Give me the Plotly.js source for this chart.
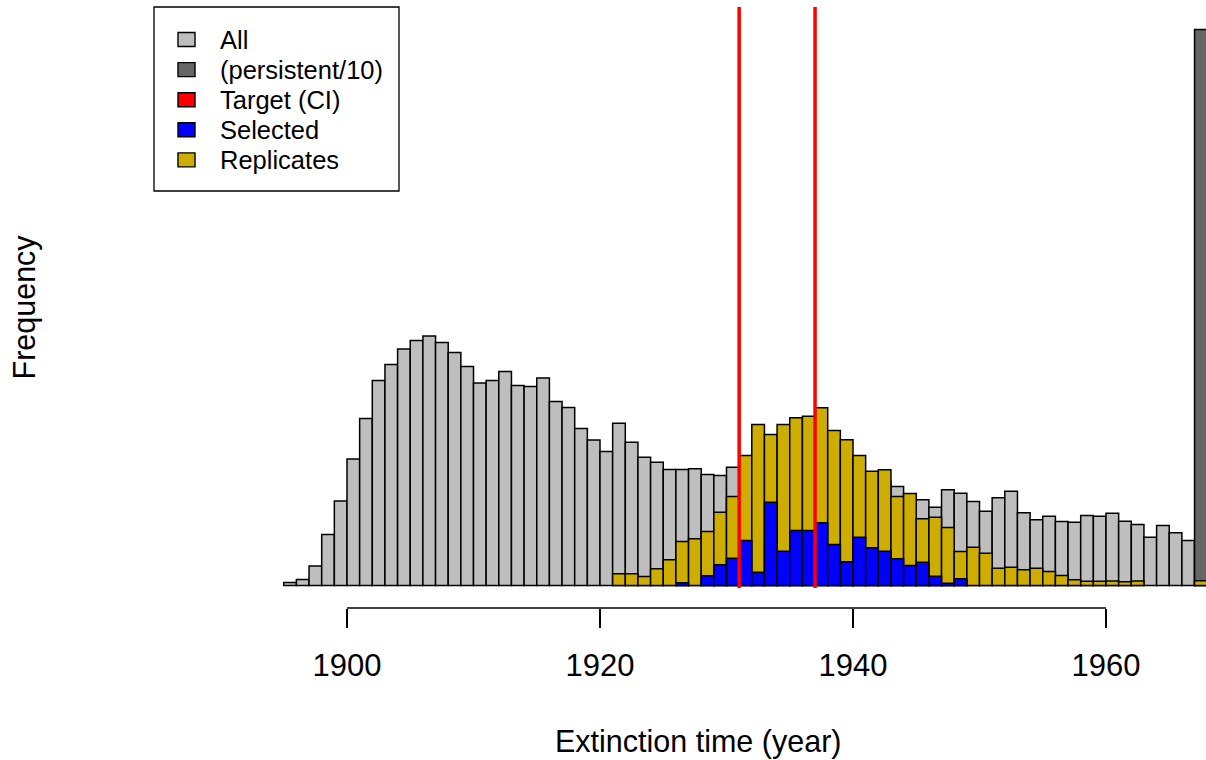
<!DOCTYPE html>
<html>
<head>
<meta charset="utf-8">
<script src="https://cdn.plot.ly/plotly-3.0.1.min.js"></script>
<style>html,body{margin:0;padding:0;background:#fff;}#chart{width:1206px;height:760px;}</style>
</head>
<body>
<div id="chart"></div>
<script>
// Bin start years (1-year bins)
var years = [];
for (var yy = 1895; yy <= 1967; yy++) years.push(yy);

// "All" histogram (arbitrary frequency units)
var allValues = [
  3, 6, 19.5, 51, 84.5,                 // 1895-1899
  126.5, 167, 205, 221, 236.5,          // 1900-1904
  245, 249.5, 243, 233, 219,            // 1905-1909
  202.5, 205, 214, 200, 199,            // 1910-1914
  207.5, 184, 178, 157, 145.5,          // 1915-1919
  134, 162.3, 143.3, 128.3, 123.3,      // 1920-1924
  116, 116, 116.7, 111, 110,            // 1925-1929
  118.3, 118, 115, 118, 115,            // 1930-1934
  112, 115, 110, 112, 108,              // 1935-1939
  110, 105, 104, 99, 90,                // 1940-1944
  85.7, 78.3, 95.7, 92.3, 84,           // 1945-1949
  74.3, 87.7, 94.3, 72.7, 65.7,         // 1950-1954
  69.3, 64, 63.3, 70, 69.3,             // 1955-1959
  72.3, 64.3, 61, 48.3, 60,             // 1960-1964
  52.7, 45, 42                          // 1965-1967
];

// Persistent (/10)
var persistentYears = [1967];
var persistentValues = [556];

// Replicates
var replicateValues = [
  null, null, null, null, null,         // 1895-1899
  null, null, null, null, null,         // 1900-1904
  null, null, null, null, null,         // 1905-1909
  null, null, null, null, null,         // 1910-1914
  null, null, null, null, null,         // 1915-1919
  null, 11.7, 11.7, 9, 16.7,            // 1920-1924
  25.7, 44, 46.7, 54, 73.3,             // 1925-1929
  89, 130, 161, 151, 161,               // 1930-1934
  167.7, 169.3, 177.7, 155, 145.7,      // 1935-1939
  130, 114.3, 115.7, 89, 92,            // 1940-1944
  66.7, 68.3, 58, 34, 38.3,             // 1945-1949
  32.3, 17.3, 18.3, 15.7, 17.3,         // 1950-1954
  14, 10, 5.7, 4.3, 4.3,                // 1955-1959
  4.6, 3.8, 4.6, null, null,            // 1960-1964
  null, null, 4.8                       // 1965-1967
];

// Selected
var selectedValues = [
  null, null, null, null, null,         // 1895-1899
  null, null, null, null, null,         // 1900-1904
  null, null, null, null, null,         // 1905-1909
  null, null, null, null, null,         // 1910-1914
  null, null, null, null, null,         // 1915-1919
  null, null, null, null, null,         // 1920-1924
  null, 2.7, null, 9.7, 20.7,           // 1925-1929
  27.3, 45, 13.3, 83.3, 34.3,           // 1930-1934
  55, 55, 62.7, 41, 23.7,               // 1935-1939
  48.3, 37.7, 34.3, 26.7, 20,           // 1940-1944
  23.3, 9.3, 2.3, 6.7, null,            // 1945-1949
  null, null, null, null, null,         // 1950-1954
  null, null, null, null, null,         // 1955-1959
  null, null, null, null, null,         // 1960-1964
  null, null, null                      // 1965-1967
];

// Target confidence interval
var targetCI = [1931, 1937];

// Axis ticks
var tickYears = [1900, 1920, 1940, 1960];
var tickLabels = ["1900", "1920", "1940", "1960"];

// Legend
var legendLabels = ["All", "(persistent/10)", "Target (CI)", "Selected", "Replicates"];
var legendColors = ["#BEBEBE", "#666666", "#FF0000", "#0000FF", "#CDAD00"];

var xTitle = "Extinction time (year)";
var yTitle = "Frequency";

// ---- layout geometry (pixels) ----
var W = 1206, H = 760;
var mL = 247, mR = 0, mT = 7, mB = 60;
var plotW = W - mL - mR, plotH = H - mT - mB;
function px(xp) { return (xp - mL) / plotW; }
function py(yp) { return (H - mB - yp) / plotH; }

var FONT = "Liberation Sans, Arial, Helvetica, sans-serif";
var border = {color: "#000", width: 1.5};

function barTrace(xs, ys, color) {
  return {
    type: "bar", x: xs, y: ys, width: 1, offset: 0,
    marker: {color: color, line: border},
    hoverinfo: "x+y", showlegend: false
  };
}

var traces = [
  barTrace(years, allValues, legendColors[0]),
  barTrace(persistentYears, persistentValues, legendColors[1]),
  barTrace(years, replicateValues, legendColors[4]),
  barTrace(years, selectedValues, legendColors[3])
];

var shapes = [];
var annotations = [];

// red target lines
targetCI.forEach(function (t) {
  shapes.push({type: "line", xref: "x", yref: "paper", x0: t, x1: t,
    y0: py(588), y1: 1, line: {color: "#FF0000", width: 3.5}, layer: "above"});
});

// axis line between first and last tick
shapes.push({type: "line", xref: "x", yref: "paper",
  x0: tickYears[0], x1: tickYears[tickYears.length - 1],
  y0: py(608), y1: py(608), line: {color: "#000", width: 1.3}});

// legend box
shapes.push({type: "rect", xref: "paper", yref: "paper",
  x0: px(154), x1: px(399), y0: py(191), y1: py(7),
  line: {color: "#000", width: 1.3}, fillcolor: "#fff"});
legendLabels.forEach(function (lab, i) {
  var cy = 39.5 + 30.1 * i;
  shapes.push({type: "rect", xref: "paper", yref: "paper",
    x0: px(178), x1: px(195), y0: py(cy + 7), y1: py(cy - 7),
    line: {color: "#000", width: 1.4}, fillcolor: legendColors[i]});
  annotations.push({xref: "paper", yref: "paper", x: px(218), y: py(cy + 0.5),
    text: lab, showarrow: false, xanchor: "left", yanchor: "middle",
    font: {family: FONT, size: 25.5, color: "#000"}});
});

annotations.push({xref: "paper", yref: "paper", x: px(698), y: py(741),
  text: xTitle, showarrow: false, xanchor: "center", yanchor: "middle",
  font: {family: FONT, size: 30.5, color: "#000"}});
annotations.push({xref: "paper", yref: "paper", x: px(24), y: py(307.5),
  text: yTitle, showarrow: false, xanchor: "center", yanchor: "middle", textangle: -90,
  font: {family: FONT, size: 30.5, color: "#000"}});

var layout = {
  width: W, height: H,
  margin: {l: mL, r: mR, t: mT, b: mB, pad: 0},
  paper_bgcolor: "#fff", plot_bgcolor: "#fff",
  barmode: "overlay", bargap: 0,
  showlegend: false,
  font: {family: FONT, color: "#000"},
  xaxis: {
    range: [1900 - (347 - mL) / 12.65, 1900 + (W - 347) / 12.65],
    anchor: "free", position: py(608),
    tickmode: "array", tickvals: tickYears, ticktext: tickLabels,
    ticks: "outside", ticklen: 19, tickwidth: 1.3, tickcolor: "#000",
    showline: false, showgrid: false, zeroline: false,
    tickfont: {family: FONT, size: 31, color: "#000"},
    ticklabelstandoff: 11,
    fixedrange: true
  },
  yaxis: {
    domain: [py(588), 1],
    range: [-2.5, 578.5],
    visible: false, fixedrange: true
  },
  shapes: shapes,
  annotations: annotations
};

Plotly.newPlot("chart", traces, layout, {displayModeBar: false, staticPlot: true});
</script>
</body>
</html>
